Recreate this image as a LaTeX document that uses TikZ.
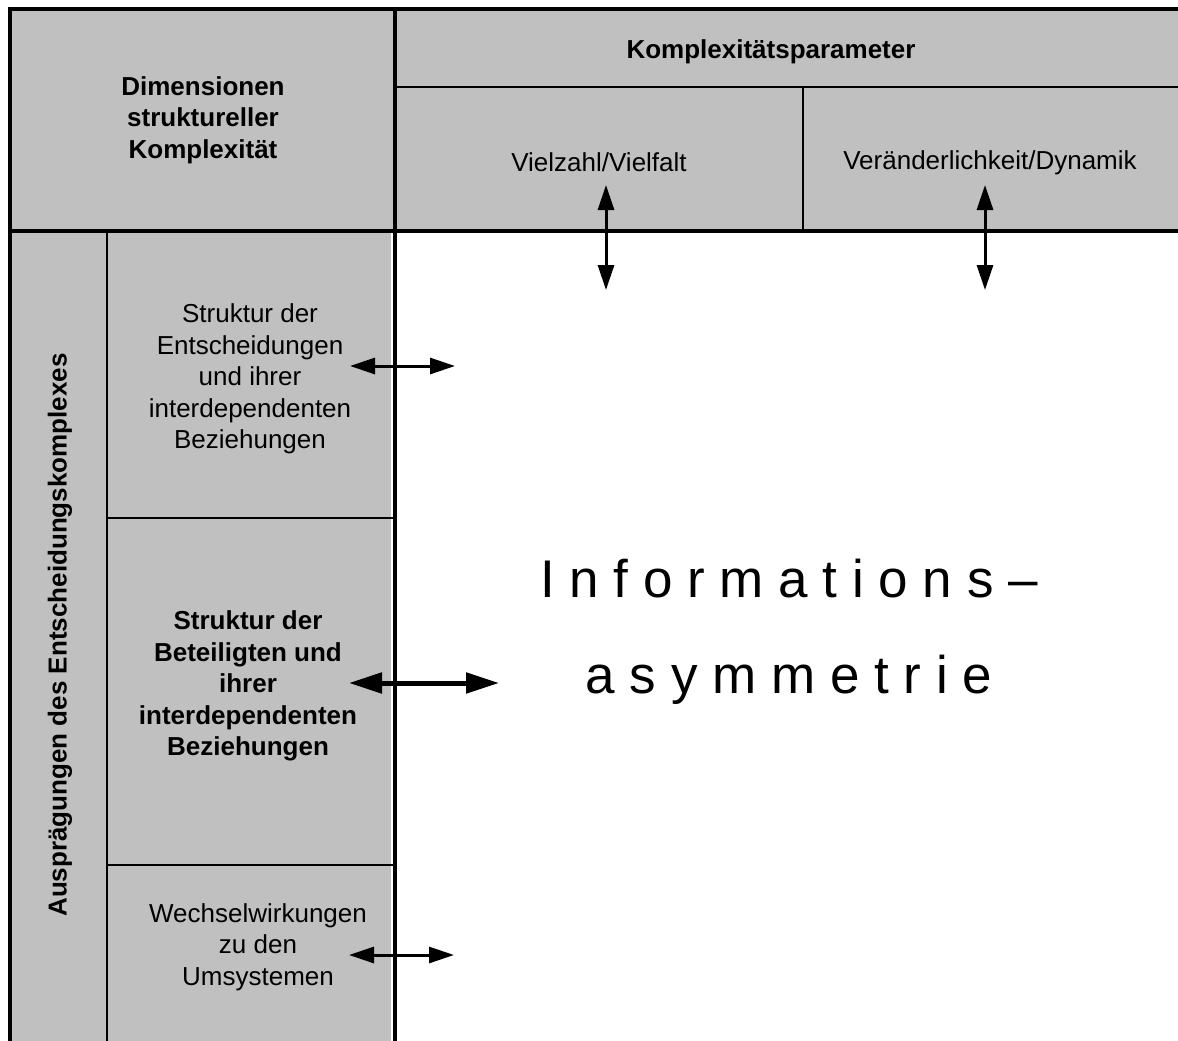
\documentclass[tikz,border=0pt]{standalone}
\usepackage{fontspec}
\setmainfont{Liberation Sans}
\usetikzlibrary{arrows.meta}
\definecolor{cellgray}{RGB}{192,192,192}
\begin{document}
\begin{tikzpicture}[x=1pt,y=-1pt,
  thickrule/.style={line width=3.6pt},
  thinrule/.style={line width=1.8pt},
  celltext/.style={font=\fontsize{26}{31.5}\selectfont, align=center, inner sep=0pt},
  boldtext/.style={font=\fontsize{26}{31.5}\selectfont\bfseries, align=center, inner sep=0pt},
  bigtext/.style={font=\fontsize{53}{96}\selectfont, align=center, inner sep=0pt},
  linkarrow/.style={line width=3pt, {Triangle[length=25pt,width=16pt]}-{Triangle[length=25pt,width=16pt]}},
  strongarrow/.style={line width=5pt, {Triangle[length=33pt,width=20pt]}-{Triangle[length=33pt,width=20pt]}}
]
\useasboundingbox (0,0) rectangle (1178,1041);

% cell backgrounds
\fill[cellgray] (10,9) rectangle (1178,231);
\fill[cellgray] (10,231) rectangle (391,1041);

% inner rules
\draw[thinrule] (395,87) -- (1178,87);
\draw[thinrule] (803,87) -- (803,231);
\draw[thinrule] (107,231) -- (107,1041);
\draw[thinrule] (107,518) -- (395,518);
\draw[thinrule] (107,865) -- (395,865);

% frame rules
\draw[thickrule] (1178,9) -- (10,9) -- (10,1041);
\draw[thickrule] (10,231) -- (1178,231);
\draw[thickrule] (395,9) -- (395,1041);

% header texts
\node[boldtext] (dim) at (203,120) {Dimensionen\\struktureller\\Komplexität};
\node[boldtext] (param) at (771,52) {Komplexitätsparameter};
\node[celltext] (vielzahl) at (599,162) {Vielzahl/Vielfalt};
\node[celltext] (dynamik) at (990,163) {Veränderlichkeit/Dynamik};

% row texts
\node[boldtext, rotate=90] (auspr) at (60,635) {Ausprägungen des Entscheidungskomplexes};
\node[celltext] (entsch) at (250,379) {Struktur der\\Entscheidungen\\und ihrer\\interdependenten\\Beziehungen};
\node[boldtext] (beteil) at (248,686) {Struktur der\\Beteiligten und\\ihrer\\interdependenten\\Beziehungen};
\node[celltext] (umsys) at (258,947) {Wechselwirkungen\\zu den\\Umsystemen};

% central statement
\node[bigtext] (asym) at (789,632) {I n f o r m a t i o n s –\\a s y m m e t r i e};

% arrow end points
\coordinate (v1a) at (606,185);
\coordinate (v1b) at (606,290);
\coordinate (v2a) at (985,185);
\coordinate (v2b) at (985,290);
\coordinate (h1a) at (350,366);
\coordinate (h1b) at (455,366);
\coordinate (h2a) at (349,683);
\coordinate (h2b) at (499,683);
\coordinate (h3a) at (349,955);
\coordinate (h3b) at (454,955);

% arrows
\draw[linkarrow] (v1a) -- (v1b);
\draw[linkarrow] (v2a) -- (v2b);
\draw[linkarrow] (h1a) -- (h1b);
\draw[strongarrow] (h2a) -- (h2b);
\draw[linkarrow] (h3a) -- (h3b);
\end{tikzpicture}
\end{document}
